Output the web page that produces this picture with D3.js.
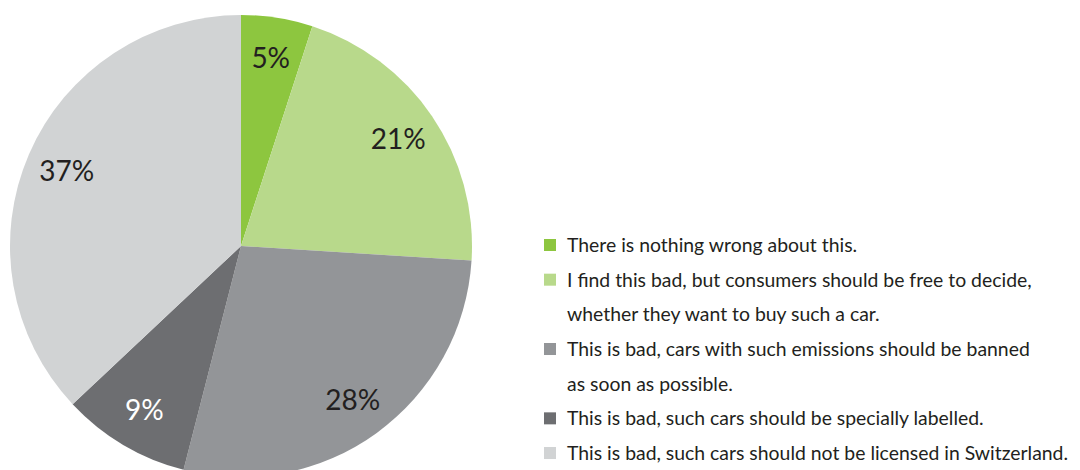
<!DOCTYPE html>
<html>
<head>
<meta charset="utf-8">
<script src="https://cdn.jsdelivr.net/npm/d3@7"></script>
<style>
  html, body { margin: 0; padding: 0; background: #fff; }
  svg { display: block; }
</style>
</head>
<body>
<svg id="chart" width="1080" height="470"></svg>
<script>
const categories = [
  "There is nothing wrong about this.",
  "I find this bad, but consumers should be free to decide, whether they want to buy such a car.",
  "This is bad, cars with such emissions should be banned as soon as possible.",
  "This is bad, such cars should be specially labelled.",
  "This is bad, such cars should not be licensed in Switzerland."
];
const legendLines = [
  ["There is nothing wrong about this."],
  ["I find this bad, but consumers should be free to decide,", "whether they want to buy such a car."],
  ["This is bad, cars with such emissions should be banned", "as soon as possible."],
  ["This is bad, such cars should be specially labelled."],
  ["This is bad, such cars should not be licensed in Switzerland."]
];
const values = [5, 21, 28, 9, 37];
const colors = ["#8dc63f", "#b8d98b", "#939598", "#6d6e71", "#d1d3d4"];
const labelColors = ["#231f20", "#231f20", "#231f20", "#ffffff", "#231f20"];

const svg = d3.select("#chart");
const cx = 241, cy = 246, R = 231;
const font = "Lato, 'Open Sans', sans-serif";

const data = values.map((v, i) => ({ v, i }));
const pie = d3.pie().value(d => d.v).sort(null);
const arcs = pie(data);
const arc = d3.arc().innerRadius(0).outerRadius(R);
const labelArc = d3.arc().innerRadius(190).outerRadius(190);

const g = svg.append("g").attr("transform", `translate(${cx},${cy})`);
g.selectAll("path").data(arcs).join("path")
  .attr("d", arc)
  .attr("fill", d => colors[d.data.i]);

g.selectAll("text").data(arcs).join("text")
  .attr("transform", d => `translate(${labelArc.centroid(d)})`)
  .attr("text-anchor", "middle")
  .attr("dy", "0.36em")
  .attr("font-family", font)
  .attr("font-size", 28)
  .attr("fill", d => labelColors[d.data.i])
  .text(d => d.data.v + "%");

// Legend
const lx = 544, textX = 567, firstBaseline = 252, lineH = 34.67;
const leg = svg.append("g");
let row = 0;
legendLines.forEach((lines, i) => {
  const base = firstBaseline + row * lineH;
  leg.append("rect")
    .attr("x", lx).attr("y", base - 13)
    .attr("width", 12).attr("height", 12)
    .attr("fill", colors[i]);
  lines.forEach((t, j) => {
    leg.append("text")
      .attr("x", textX).attr("y", firstBaseline + (row + j) * lineH)
      .attr("font-family", font)
      .attr("font-size", 19.4)
      .attr("fill", "#231f20")
      .text(t);
  });
  row += lines.length;
});
</script>
</body>
</html>
